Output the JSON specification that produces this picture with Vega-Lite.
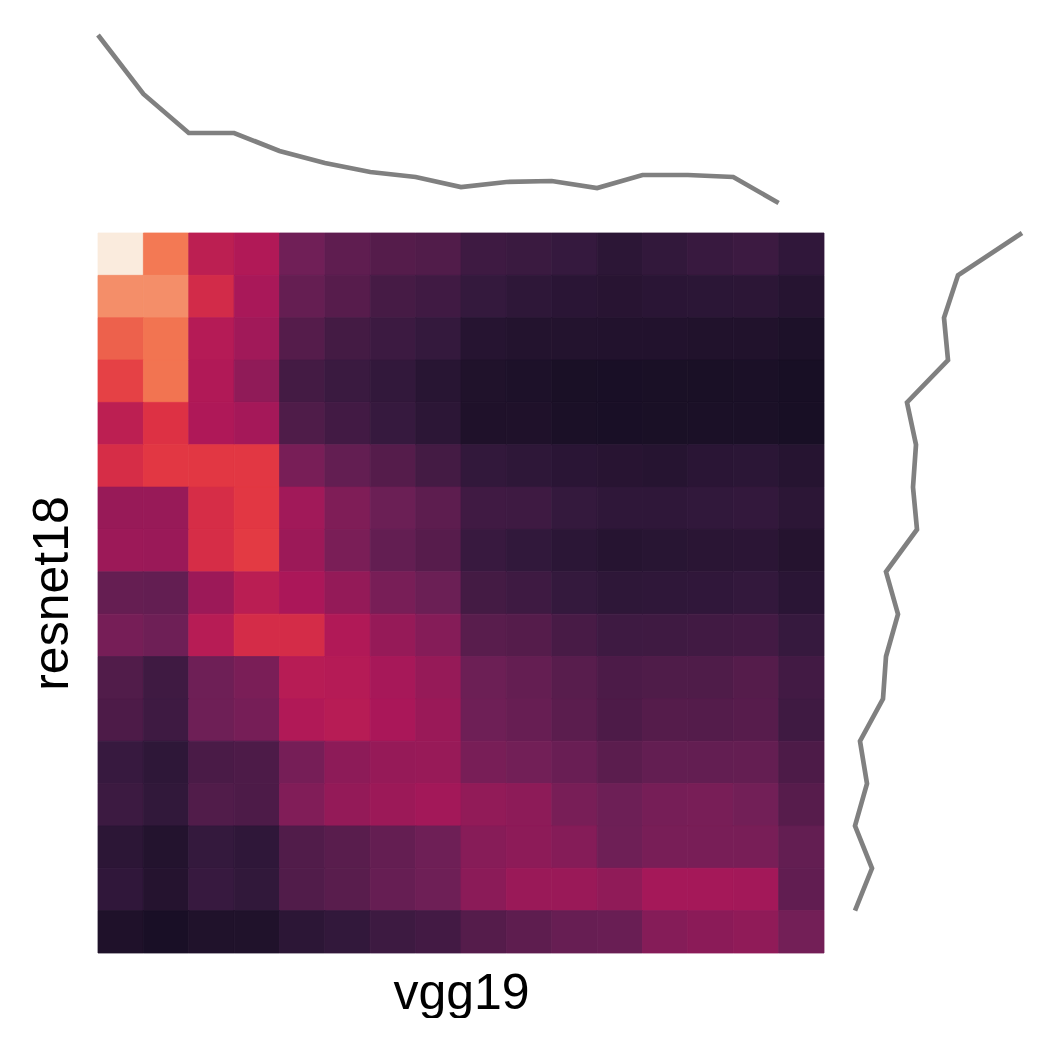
{
  "$schema": "https://vega.github.io/schema/vega-lite/v6.json",
  "padding": {"left": 27, "top": 13, "right": 0, "bottom": 0},
  "background": "white",
  "config": {
    "view": {"stroke": null},
    "font": "Liberation Sans",
    "axis": {"titleFont": "Liberation Sans", "titleFontWeight": "normal", "titleFontSize": 50, "titleColor": "#000000"}
  },
  "datasets": {
    "top": [
      {"i": 0, "v": 178}, {"i": 1, "v": 119}, {"i": 2, "v": 80}, {"i": 3, "v": 80},
      {"i": 4, "v": 62}, {"i": 5, "v": 50}, {"i": 6, "v": 41}, {"i": 7, "v": 36},
      {"i": 8, "v": 26}, {"i": 9, "v": 31}, {"i": 10, "v": 32}, {"i": 11, "v": 25},
      {"i": 12, "v": 38}, {"i": 13, "v": 38}, {"i": 14, "v": 36}, {"i": 15, "v": 10}
    ],
    "right": [
      {"j": 0, "u": 178}, {"j": 1, "u": 114}, {"j": 2, "u": 100}, {"j": 3, "u": 104},
      {"j": 4, "u": 63}, {"j": 5, "u": 72}, {"j": 6, "u": 69}, {"j": 7, "u": 73},
      {"j": 8, "u": 42}, {"j": 9, "u": 54}, {"j": 10, "u": 42}, {"j": 11, "u": 39},
      {"j": 12, "u": 16}, {"j": 13, "u": 23}, {"j": 14, "u": 11}, {"j": 15, "u": 28},
      {"j": 16, "u": 11}
    ],
    "heat": [
      {"r":0,"c":0,"v":1.0},{"r":0,"c":1,"v":0.72},{"r":0,"c":2,"v":0.47},{"r":0,"c":3,"v":0.44},{"r":0,"c":4,"v":0.285},{"r":0,"c":5,"v":0.245},{"r":0,"c":6,"v":0.22},{"r":0,"c":7,"v":0.21},{"r":0,"c":8,"v":0.165},{"r":0,"c":9,"v":0.155},{"r":0,"c":10,"v":0.143},{"r":0,"c":11,"v":0.12},{"r":0,"c":12,"v":0.135},{"r":0,"c":13,"v":0.15},{"r":0,"c":14,"v":0.16},{"r":0,"c":15,"v":0.13},
      {"r":1,"c":0,"v":0.77},{"r":1,"c":1,"v":0.77},{"r":1,"c":2,"v":0.53},{"r":1,"c":3,"v":0.42},{"r":1,"c":4,"v":0.26},{"r":1,"c":5,"v":0.225},{"r":1,"c":6,"v":0.185},{"r":1,"c":7,"v":0.17},{"r":1,"c":8,"v":0.14},{"r":1,"c":9,"v":0.125},{"r":1,"c":10,"v":0.115},{"r":1,"c":11,"v":0.108},{"r":1,"c":12,"v":0.115},{"r":1,"c":13,"v":0.118},{"r":1,"c":14,"v":0.12},{"r":1,"c":15,"v":0.105},
      {"r":2,"c":0,"v":0.67},{"r":2,"c":1,"v":0.71},{"r":2,"c":2,"v":0.45},{"r":2,"c":3,"v":0.40},{"r":2,"c":4,"v":0.22},{"r":2,"c":5,"v":0.18},{"r":2,"c":6,"v":0.16},{"r":2,"c":7,"v":0.14},{"r":2,"c":8,"v":0.105},{"r":2,"c":9,"v":0.097},{"r":2,"c":10,"v":0.097},{"r":2,"c":11,"v":0.093},{"r":2,"c":12,"v":0.093},{"r":2,"c":13,"v":0.09},{"r":2,"c":14,"v":0.09},{"r":2,"c":15,"v":0.08},
      {"r":3,"c":0,"v":0.60},{"r":3,"c":1,"v":0.71},{"r":3,"c":2,"v":0.44},{"r":3,"c":3,"v":0.36},{"r":3,"c":4,"v":0.18},{"r":3,"c":5,"v":0.155},{"r":3,"c":6,"v":0.135},{"r":3,"c":7,"v":0.11},{"r":3,"c":8,"v":0.088},{"r":3,"c":9,"v":0.08},{"r":3,"c":10,"v":0.072},{"r":3,"c":11,"v":0.068},{"r":3,"c":12,"v":0.072},{"r":3,"c":13,"v":0.072},{"r":3,"c":14,"v":0.074},{"r":3,"c":15,"v":0.066},
      {"r":4,"c":0,"v":0.47},{"r":4,"c":1,"v":0.56},{"r":4,"c":2,"v":0.435},{"r":4,"c":3,"v":0.41},{"r":4,"c":4,"v":0.205},{"r":4,"c":5,"v":0.175},{"r":4,"c":6,"v":0.145},{"r":4,"c":7,"v":0.12},{"r":4,"c":8,"v":0.085},{"r":4,"c":9,"v":0.085},{"r":4,"c":10,"v":0.075},{"r":4,"c":11,"v":0.068},{"r":4,"c":12,"v":0.072},{"r":4,"c":13,"v":0.074},{"r":4,"c":14,"v":0.074},{"r":4,"c":15,"v":0.066},
      {"r":5,"c":0,"v":0.54},{"r":5,"c":1,"v":0.58},{"r":5,"c":2,"v":0.58},{"r":5,"c":3,"v":0.58},{"r":5,"c":4,"v":0.305},{"r":5,"c":5,"v":0.255},{"r":5,"c":6,"v":0.22},{"r":5,"c":7,"v":0.18},{"r":5,"c":8,"v":0.135},{"r":5,"c":9,"v":0.125},{"r":5,"c":10,"v":0.115},{"r":5,"c":11,"v":0.108},{"r":5,"c":12,"v":0.105},{"r":5,"c":13,"v":0.115},{"r":5,"c":14,"v":0.118},{"r":5,"c":15,"v":0.105},
      {"r":6,"c":0,"v":0.38},{"r":6,"c":1,"v":0.38},{"r":6,"c":2,"v":0.54},{"r":6,"c":3,"v":0.58},{"r":6,"c":4,"v":0.40},{"r":6,"c":5,"v":0.32},{"r":6,"c":6,"v":0.275},{"r":6,"c":7,"v":0.24},{"r":6,"c":8,"v":0.17},{"r":6,"c":9,"v":0.165},{"r":6,"c":10,"v":0.14},{"r":6,"c":11,"v":0.128},{"r":6,"c":12,"v":0.128},{"r":6,"c":13,"v":0.133},{"r":6,"c":14,"v":0.138},{"r":6,"c":15,"v":0.12},
      {"r":7,"c":0,"v":0.39},{"r":7,"c":1,"v":0.385},{"r":7,"c":2,"v":0.54},{"r":7,"c":3,"v":0.585},{"r":7,"c":4,"v":0.39},{"r":7,"c":5,"v":0.31},{"r":7,"c":6,"v":0.255},{"r":7,"c":7,"v":0.225},{"r":7,"c":8,"v":0.15},{"r":7,"c":9,"v":0.133},{"r":7,"c":10,"v":0.118},{"r":7,"c":11,"v":0.105},{"r":7,"c":12,"v":0.11},{"r":7,"c":13,"v":0.113},{"r":7,"c":14,"v":0.116},{"r":7,"c":15,"v":0.10},
      {"r":8,"c":0,"v":0.26},{"r":8,"c":1,"v":0.255},{"r":8,"c":2,"v":0.39},{"r":8,"c":3,"v":0.465},{"r":8,"c":4,"v":0.425},{"r":8,"c":5,"v":0.37},{"r":8,"c":6,"v":0.305},{"r":8,"c":7,"v":0.275},{"r":8,"c":8,"v":0.18},{"r":8,"c":9,"v":0.165},{"r":8,"c":10,"v":0.14},{"r":8,"c":11,"v":0.125},{"r":8,"c":12,"v":0.128},{"r":8,"c":13,"v":0.13},{"r":8,"c":14,"v":0.138},{"r":8,"c":15,"v":0.115},
      {"r":9,"c":0,"v":0.30},{"r":9,"c":1,"v":0.28},{"r":9,"c":2,"v":0.455},{"r":9,"c":3,"v":0.535},{"r":9,"c":4,"v":0.535},{"r":9,"c":5,"v":0.44},{"r":9,"c":6,"v":0.375},{"r":9,"c":7,"v":0.335},{"r":9,"c":8,"v":0.23},{"r":9,"c":9,"v":0.22},{"r":9,"c":10,"v":0.19},{"r":9,"c":11,"v":0.165},{"r":9,"c":12,"v":0.168},{"r":9,"c":13,"v":0.172},{"r":9,"c":14,"v":0.178},{"r":9,"c":15,"v":0.145},
      {"r":10,"c":0,"v":0.21},{"r":10,"c":1,"v":0.168},{"r":10,"c":2,"v":0.28},{"r":10,"c":3,"v":0.31},{"r":10,"c":4,"v":0.455},{"r":10,"c":5,"v":0.45},{"r":10,"c":6,"v":0.415},{"r":10,"c":7,"v":0.375},{"r":10,"c":8,"v":0.277},{"r":10,"c":9,"v":0.258},{"r":10,"c":10,"v":0.228},{"r":10,"c":11,"v":0.198},{"r":10,"c":12,"v":0.205},{"r":10,"c":13,"v":0.207},{"r":10,"c":14,"v":0.22},{"r":10,"c":15,"v":0.175},
      {"r":11,"c":0,"v":0.20},{"r":11,"c":1,"v":0.165},{"r":11,"c":2,"v":0.28},{"r":11,"c":3,"v":0.30},{"r":11,"c":4,"v":0.44},{"r":11,"c":5,"v":0.455},{"r":11,"c":6,"v":0.422},{"r":11,"c":7,"v":0.385},{"r":11,"c":8,"v":0.28},{"r":11,"c":9,"v":0.265},{"r":11,"c":10,"v":0.235},{"r":11,"c":11,"v":0.20},{"r":11,"c":12,"v":0.22},{"r":11,"c":13,"v":0.218},{"r":11,"c":14,"v":0.225},{"r":11,"c":15,"v":0.168},
      {"r":12,"c":0,"v":0.148},{"r":12,"c":1,"v":0.125},{"r":12,"c":2,"v":0.195},{"r":12,"c":3,"v":0.20},{"r":12,"c":4,"v":0.30},{"r":12,"c":5,"v":0.355},{"r":12,"c":6,"v":0.375},{"r":12,"c":7,"v":0.38},{"r":12,"c":8,"v":0.305},{"r":12,"c":9,"v":0.29},{"r":12,"c":10,"v":0.27},{"r":12,"c":11,"v":0.235},{"r":12,"c":12,"v":0.255},{"r":12,"c":13,"v":0.255},{"r":12,"c":14,"v":0.258},{"r":12,"c":15,"v":0.20},
      {"r":13,"c":0,"v":0.16},{"r":13,"c":1,"v":0.132},{"r":13,"c":2,"v":0.21},{"r":13,"c":3,"v":0.20},{"r":13,"c":4,"v":0.325},{"r":13,"c":5,"v":0.37},{"r":13,"c":6,"v":0.39},{"r":13,"c":7,"v":0.405},{"r":13,"c":8,"v":0.365},{"r":13,"c":9,"v":0.355},{"r":13,"c":10,"v":0.305},{"r":13,"c":11,"v":0.278},{"r":13,"c":12,"v":0.30},{"r":13,"c":13,"v":0.305},{"r":13,"c":14,"v":0.29},{"r":13,"c":15,"v":0.225},
      {"r":14,"c":0,"v":0.12},{"r":14,"c":1,"v":0.095},{"r":14,"c":2,"v":0.14},{"r":14,"c":3,"v":0.128},{"r":14,"c":4,"v":0.21},{"r":14,"c":5,"v":0.23},{"r":14,"c":6,"v":0.258},{"r":14,"c":7,"v":0.28},{"r":14,"c":8,"v":0.34},{"r":14,"c":9,"v":0.355},{"r":14,"c":10,"v":0.335},{"r":14,"c":11,"v":0.28},{"r":14,"c":12,"v":0.305},{"r":14,"c":13,"v":0.305},{"r":14,"c":14,"v":0.305},{"r":14,"c":15,"v":0.255},
      {"r":15,"c":0,"v":0.13},{"r":15,"c":1,"v":0.10},{"r":15,"c":2,"v":0.148},{"r":15,"c":3,"v":0.132},{"r":15,"c":4,"v":0.21},{"r":15,"c":5,"v":0.23},{"r":15,"c":6,"v":0.262},{"r":15,"c":7,"v":0.28},{"r":15,"c":8,"v":0.35},{"r":15,"c":9,"v":0.385},{"r":15,"c":10,"v":0.385},{"r":15,"c":11,"v":0.36},{"r":15,"c":12,"v":0.41},{"r":15,"c":13,"v":0.41},{"r":15,"c":14,"v":0.405},{"r":15,"c":15,"v":0.25},
      {"r":16,"c":0,"v":0.085},{"r":16,"c":1,"v":0.068},{"r":16,"c":2,"v":0.088},{"r":16,"c":3,"v":0.088},{"r":16,"c":4,"v":0.12},{"r":16,"c":5,"v":0.135},{"r":16,"c":6,"v":0.163},{"r":16,"c":7,"v":0.178},{"r":16,"c":8,"v":0.22},{"r":16,"c":9,"v":0.243},{"r":16,"c":10,"v":0.265},{"r":16,"c":11,"v":0.27},{"r":16,"c":12,"v":0.335},{"r":16,"c":13,"v":0.35},{"r":16,"c":14,"v":0.36},{"r":16,"c":15,"v":0.292}
    ]
  },
  "bounds": "flush",
  "spacing": 20,
  "vconcat": [
    {
      "width": 726,
      "height": 200,
      "data": {"name": "top"},
      "mark": {"type": "line", "color": "#808080", "strokeWidth": 4.7},
      "encoding": {
        "x": {"field": "i", "type": "quantitative", "scale": {"domain": [0, 16], "nice": false, "zero": false}, "axis": null},
        "y": {"field": "v", "type": "quantitative", "scale": {"domain": [0, 200], "nice": false}, "axis": null}
      }
    },
    {
      "bounds": "flush",
      "spacing": 20,
      "hconcat": [
        {
          "width": 726,
          "height": 720,
          "data": {"name": "heat"},
          "mark": {"type": "rect", "strokeWidth": 0.8},
          "encoding": {
            "x": {"field": "c", "type": "ordinal", "scale": {"padding": 0}, "axis": {"title": "vgg19", "labels": false, "ticks": false, "domain": false, "titlePadding": 15}},
            "y": {"field": "r", "type": "ordinal", "scale": {"padding": 0}, "axis": {"title": "resnet18", "labels": false, "ticks": false, "domain": false, "titlePadding": 21}},
            "color": {
              "field": "v", "type": "quantitative", "legend": null,
              "scale": {
                "domain": [0, 0.075, 0.143, 0.286, 0.429, 0.571, 0.714, 0.857, 1],
                "range": ["#03051A", "#1B1027", "#35193E", "#701F57", "#AD1759", "#E13342", "#F37651", "#F6B48F", "#FAEBDD"],
                "interpolate": "rgb"
              }
            },
            "stroke": {
              "field": "v", "type": "quantitative", "legend": null,
              "scale": {
                "domain": [0, 0.075, 0.143, 0.286, 0.429, 0.571, 0.714, 0.857, 1],
                "range": ["#03051A", "#1B1027", "#35193E", "#701F57", "#AD1759", "#E13342", "#F37651", "#F6B48F", "#FAEBDD"],
                "interpolate": "rgb"
              }
            }
          }
        },
        {
          "width": 200,
          "height": 720,
          "data": {"name": "right"},
          "mark": {"type": "line", "color": "#808080", "strokeWidth": 4.7},
          "encoding": {
            "x": {"field": "u", "type": "quantitative", "scale": {"domain": [0, 200], "nice": false}, "axis": null},
            "y": {"field": "j", "type": "quantitative", "scale": {"domain": [0, 17], "nice": false, "zero": false, "reverse": true}, "axis": null},
            "order": {"field": "j", "type": "quantitative"}
          }
        }
      ]
    }
  ]
}
